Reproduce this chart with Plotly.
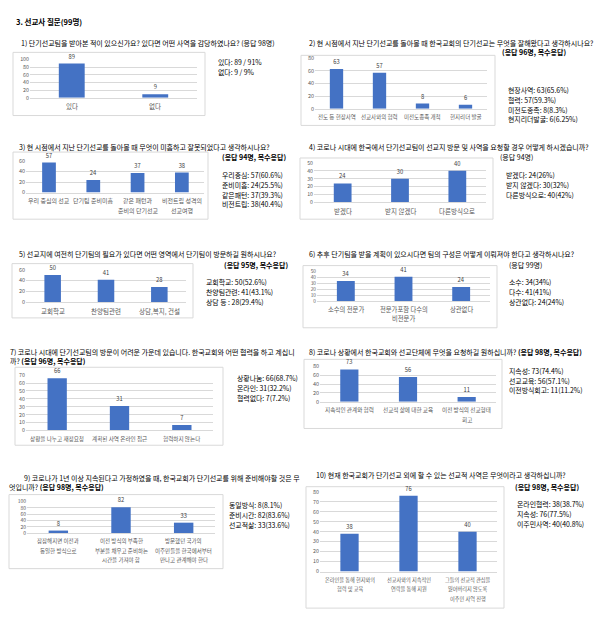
import plotly.graph_objects as go

W, H = 600, 621
FONT = "Noto Sans CJK KR"
BLUE = "#4472C4"
GRID = "#d9d9d9"
TXT = "#595959"

# ---------------- data ----------------
q1_cats = ["있다", "없다"]
q1_vals = [89, 9]
q1_side = ["있다: 89 / 91%", "없다: 9 / 9%"]

q2_cats = ["전도 등 현장사역", "선교사와의 협력", "미전도종족 개척", "현지리더 발굴"]
q2_vals = [63, 57, 8, 6]
q2_side = ["현장사역: 63(65.6%)", "협력: 57(59.3%)", "미전도종족: 8(8.3%)", "현지리더발굴: 6(6.25%)"]

q3_cats = ["우리 중심의 선교", "단기팀 준비미흡", "같은 패턴과<br>준비의 단기선교", "비전트립 성격의<br>선교여행"]
q3_vals = [57, 24, 37, 38]
q3_side = ["우리중심: 57(60.6%)", "준비미흡: 24(25.5%)", "같은패턴: 37(39.3%)", "비전트립: 38(40.4%)"]

q4_cats = ["받겠다", "받지 않겠다", "다른방식으로"]
q4_vals = [24, 30, 40]
q4_side = ["받겠다: 24(26%)", "받지 않겠다: 30(32%)", "다른방식으로: 40(42%)"]

q5_cats = ["교회학교", "찬양팀관련", "상담,복지, 건설"]
q5_vals = [50, 41, 28]
q5_side = ["교회학교: 50(52.6%)", "찬양팀관련: 41(43.1%)", "상담 등 : 28(29.4%)"]

q6_cats = ["소수의 전문가", "전문가포함 다수의<br>비전문가", "상관없다"]
q6_vals = [34, 41, 24]
q6_side = ["소수: 34(34%)", "다수: 41(41%)", "상관없다: 24(24%)"]

q7_cats = ["상황을 나누고 재정요청", "계획된 사역 온라인 접근", "협력하지 않는다"]
q7_vals = [66, 31, 7]
q7_side = ["상황나눔: 66(68.7%)", "온라인: 31(32.2%)", "협력없다: 7(7.2%)"]

q8_cats = ["지속적인 관계와 협력", "선교적 삶에 대한 교육", "이전 방식의 선교형태<br>회고"]
q8_vals = [73, 56, 11]
q8_side = ["지속성: 73(74.4%)", "선교교육: 56(57.1%)", "이전방식회고: 11(11.2%)"]

q9_cats = ["잠잠해지면 이전과<br>동일한 방식으로",
           "이전 방식의 부족한<br>부분을 채우고 준비하는<br>시간을 가져야 함",
           "방문했던 국가의<br>이주민들을 한국에서부터<br>만나고 관계해야 한다"]
q9_vals = [8, 82, 33]
q9_side = ["동일방식: 8(8.1%)", "준비시간: 82(83.6%)", "선교적삶: 33(33.6%)"]

q10_cats = ["온라인을 통해 현지와의<br>협력 및 교육", "선교사와의 지속적인<br>연락을 통해 지원",
            "그들의 선교적 관심을<br>잃어버리지 않도록<br>이주민 사역 진행"]
q10_vals = [38, 76, 40]
q10_side = ["온라인협력: 38(38.7%)", "지속성: 76(77.5%)", "이주민사역: 40(40.8%)"]

header = "3. 선교사 질문(99명)"
titles = [
    ["1) 단기선교팀을 받아본 적이 있으신가요? 있다면 어떤 사역을 감당하였나요? (응답 98명)"],
    ["2) 현 시점에서 지난 단기선교를 돌아볼 때 한국교회의 단기선교는 무엇을 잘해왔다고 생각하시나요?", "<b>(응답 96명, 복수응답)</b>"],
    ["3) 현 시점에서 지난 단기선교를 돌아볼 때 무엇이 미흡하고 잘못되었다고 생각하시나요?", "<b>(응답 94명, 복수응답)</b>"],
    ["4) 코로나 시대에 한국에서 단기선교팀이 선교지 방문 및 사역을 요청할 경우 어떻게 하시겠습니까?", "(응답 94명)"],
    ["5) 선교지에 여전히 단기팀의 필요가 있다면 어떤 영역에서 단기팀이 방문하길 원하시나요?", "<b>(응답 95명, 복수응답)</b>"],
    ["6) 추후 단기팀을 받을 계획이 있으시다면 팀의 구성은 어떻게 이뤄져야 한다고 생각하시나요?", "(응답 99명)"],
    ["7) 코로나 시대에 단기선교팀의 방문이 어려운 가운데 있습니다. 한국교회와 어떤 협력을 하고 계십니", "까? <b>(응답 96명, 복수응답)</b>"],
    ["8) 코로나 상황에서 한국교회와 선교단체에 무엇을 요청하길 원하십니까? <b>(응답 98명, 복수응답)</b>"],
    ["9) 코로나가 1년 이상 지속된다고 가정하였을 때, 한국교회가 단기선교를 위해 준비해야할 것은 무", "엇입니까? <b>(응답 98명, 복수응답)</b>"],
    ["10) 현재 한국교회가 단기선교 외에 할 수 있는 선교적 사역은 무엇이라고 생각하십니까?", "<b>(응답 98명, 복수응답)</b>"],
]

panels_data = [
    (q1_cats, q1_vals, q1_side, 100, 20),
    (q2_cats, q2_vals, q2_side, 80, 20),
    (q3_cats, q3_vals, q3_side, 60, 20),
    (q4_cats, q4_vals, q4_side, 50, 10),
    (q5_cats, q5_vals, q5_side, 60, 20),
    (q6_cats, q6_vals, q6_side, 50, 10),
    (q7_cats, q7_vals, q7_side, 70, 10),
    (q8_cats, q8_vals, q8_side, 80, 20),
    (q9_cats, q9_vals, q9_side, 100, 20),
    (q10_cats, q10_vals, q10_side, 80, 10),
]

# ---------------- layout (pixels) ----------------
# plot area: x0, x1, ytop, ybottom
plot_px = [
    (30, 197, 56, 95),
    (315, 487, 55, 106),
    (26, 204, 159, 191),
    (314, 486, 161, 201),
    (26, 186, 269, 302),
    (317, 490, 271, 301),
    (26, 213, 376, 432),
    (320, 496, 367, 403),
    (27, 215, 504, 536),
    (320, 497, 494, 575),
]
# box: x0, x1, y0, y1
box_px = [
    (13, 205, 49, 113),
    (301, 495, 52, 123),
    (13, 208, 150, 218),
    (300, 493, 156, 218),
    (12, 193, 263, 318),
    (303, 497, 265, 328),
    (15, 223, 368, 447),
    (304, 502, 360, 430),
    (9, 223, 497, 572),
    (306, 504, 489, 612),
]
# side text: x, first y, step
side_px = [
    (216, 59, 10),
    (506, 87, 10),
    (220, 173, 10),
    (504, 173, 10),
    (204, 282, 10),
    (507, 282, 10),
    (235, 379, 10),
    (507, 372, 9.5),
    (227, 508, 10),
    (515, 507, 10),
]
# title lines: list of (x, y)
title_px = [
    [(19, 40)],
    [(307, 40), (500, 49)],
    [(17, 145), (220, 155)],
    [(307, 145), (498, 155)],
    [(17, 253), (222, 264)],
    [(307, 253), (507, 264)],
    [(8, 352.5), (8, 361.5)],
    [(307, 353)],
    [(22, 480), (7, 489)],
    [(314, 477), (513, 489)],
]
# category label font size, y-tick font size
cat_font = [6.5, 5.5, 6.0, 6.5, 6.5, 6.3, 5.6, 5.6, 5.5, 5.2]
ytick_font = [5.3, 5.5, 5.5, 5.2, 5.5, 4.8, 5.3, 5.5, 5.0, 5.3]
CAT_OFFSET = 8.5
CAT_STEP = 9.5


def fx(p):
    return p / W


def fy(p):
    return 1 - p / H


fig = go.Figure()
annotations = []
shapes = []

for i, (cats, vals, side, ymax, dtick) in enumerate(panels_data):
    n = i + 1
    sfx = "" if n == 1 else str(n)
    xa, ya = "x" + sfx, "y" + sfx
    fig.add_trace(go.Bar(
        x=cats, y=vals, text=vals, textposition="outside", textangle=0,
        constraintext="none", cliponaxis=False,
        textfont=dict(size=5.8, color="#404040", family=FONT),
        marker=dict(color=BLUE, line=dict(width=0)),
        xaxis=xa, yaxis=ya, showlegend=False, hoverinfo="y",
    ))
    x0, x1, yt, yb = plot_px[i]
    fig.layout["xaxis" + sfx] = dict(
        domain=[fx(x0), fx(x1)], anchor=ya, showline=True, linecolor=GRID,
        linewidth=1, ticks="", showticklabels=False, showgrid=False,
        fixedrange=True, type="category",
    )
    fig.layout["yaxis" + sfx] = dict(
        domain=[fy(yb), fy(yt)], anchor=xa, range=[0, ymax * 1.001], dtick=dtick,
        tick0=0, showgrid=True, gridcolor=GRID, gridwidth=1, zeroline=False,
        showline=False, ticks="", fixedrange=True,
        tickfont=dict(size=ytick_font[i], color=TXT, family=FONT),
    )
    # category labels (one annotation per line, positioned by category on x axis)
    for ci, cat in enumerate(cats):
        for li, part in enumerate(cat.split("<br>")):
            annotations.append(dict(
                text=part, x=ci, xref=xa, y=fy(yb + CAT_OFFSET + li * CAT_STEP),
                yref="paper", xanchor="center", yanchor="middle", showarrow=False,
                font=dict(size=cat_font[i], color=TXT, family=FONT)))
    bx0, bx1, by0, by1 = box_px[i]
    shapes.append(dict(type="rect", xref="paper", yref="paper",
                       x0=fx(bx0), x1=fx(bx1), y0=fy(by1), y1=fy(by0),
                       line=dict(color=GRID, width=1), layer="below"))
    sx, sy, step = side_px[i]
    for k, line in enumerate(side):
        annotations.append(dict(text=line, x=fx(sx), y=fy(sy + k * step),
                                xref="paper", yref="paper", xanchor="left",
                                yanchor="middle", showarrow=False,
                                font=dict(size=6.9, color="#000000", family=FONT)))
    for (tx, ty), line in zip(title_px[i], titles[i]):
        annotations.append(dict(text=line, x=fx(tx), y=fy(ty), xref="paper",
                                yref="paper", xanchor="left", yanchor="middle",
                                showarrow=False,
                                font=dict(size=7, color="#000000", family=FONT)))

annotations.append(dict(text="<b>" + header + "</b>", x=fx(14), y=fy(18),
                        xref="paper", yref="paper", xanchor="left",
                        yanchor="middle", showarrow=False,
                        font=dict(size=7.5, color="#000000", family=FONT)))

fig.update_layout(
    width=W, height=H, margin=dict(l=0, r=0, t=0, b=0),
    paper_bgcolor="white", plot_bgcolor="white",
    bargap=0.69, annotations=annotations, shapes=shapes,
    font=dict(family=FONT),
)

fig.write_html("out.html", config={"displayModeBar": False},
               post_script="document.body.style.margin='0';document.body.style.padding='0';")
